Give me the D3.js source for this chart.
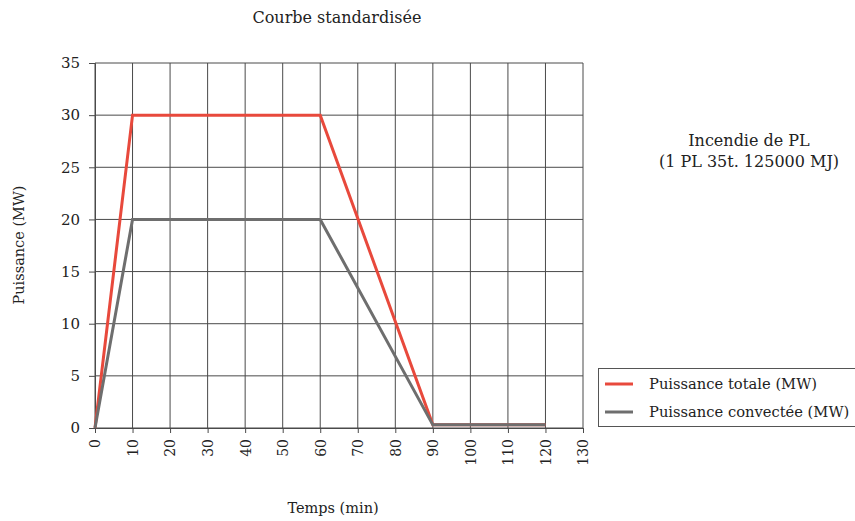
<!DOCTYPE html>
<html><head><meta charset="utf-8">
<script src="https://cdn.jsdelivr.net/npm/d3@7"></script>
<style>body{margin:0;background:#fff}svg{display:block}text{font-family:"DejaVu Serif","Liberation Serif",serif;fill:#222}</style>
</head><body><svg id="c" width="855" height="521"></svg>
<script>
const timeTicks = [0,10,20,30,40,50,60,70,80,90,100,110,120,130];
const powerTicks = [0,5,10,15,20,25,30,35];
const totalTime = [0,10,60,90,120];
const totalPower = [0,30,30,0.3,0.3];
const convTime = [0,10,60,90,120];
const convPower = [0,20,20,0.3,0.3];
const seriesNames = ["Puissance totale (MW)","Puissance convectée (MW)"];
const seriesColors = ["#e8493c","#6e6e6e"];

const svg = d3.select("#c");
const x = d3.scaleLinear().domain([0,130]).range([95,583]);
const y = d3.scaleLinear().domain([0,35]).range([428,63]);

// grid
svg.append("g").selectAll("line").data(timeTicks).join("line")
  .attr("x1",d=>x(d)).attr("x2",d=>x(d)).attr("y1",y(0)).attr("y2",y(35))
  .attr("stroke","#4a4a4a").attr("stroke-width",1);
svg.append("g").selectAll("line").data(powerTicks).join("line")
  .attr("x1",x(0)).attr("x2",x(130)).attr("y1",d=>y(d)).attr("y2",d=>y(d))
  .attr("stroke","#4a4a4a").attr("stroke-width",1);

// axes
const xa = svg.append("g").attr("transform",`translate(0,${y(0)})`)
  .call(d3.axisBottom(x).tickValues(timeTicks).tickSize(5).tickPadding(6));
xa.select(".domain").attr("stroke","#4a4a4a");
xa.selectAll(".tick line").attr("stroke","#4a4a4a");
xa.selectAll("text").attr("font-size",14).attr("fill","#222")
  .attr("transform","rotate(-90)").attr("text-anchor","end").attr("dy","0.35em").attr("x",-11).attr("y",0);
const ya = svg.append("g").attr("transform",`translate(${x(0)},0)`)
  .call(d3.axisLeft(y).tickValues(powerTicks).tickSize(6).tickPadding(9));
ya.select(".domain").attr("stroke","#4a4a4a");
ya.selectAll(".tick line").attr("stroke","#4a4a4a");
ya.selectAll("text").attr("font-size",15).attr("fill","#222");

// lines
const line = d3.line().x(d=>x(d[0])).y(d=>y(d[1]));
svg.append("path").datum(totalTime.map((t,i)=>[t,totalPower[i]]))
  .attr("d",line).attr("fill","none").attr("stroke",seriesColors[0]).attr("stroke-width",3);
svg.append("path").datum(convTime.map((t,i)=>[t,convPower[i]]))
  .attr("d",line).attr("fill","none").attr("stroke",seriesColors[1]).attr("stroke-width",3);

// titles
svg.append("text").attr("x",337).attr("y",23).attr("text-anchor","middle").attr("font-size",16).text("Courbe standardisée");
svg.append("text").attr("x",333).attr("y",513).attr("text-anchor","middle").attr("font-size",14.5).text("Temps (min)");
svg.append("text").attr("transform","translate(24,245) rotate(-90)").attr("text-anchor","middle").attr("font-size",14.5).text("Puissance (MW)");
svg.append("text").attr("x",749).attr("y",146).attr("text-anchor","middle").attr("font-size",16).text("Incendie de PL");
svg.append("text").attr("x",749).attr("y",167).attr("text-anchor","middle").attr("font-size",16).text("(1 PL 35t. 125000 MJ)");

// legend
svg.append("rect").attr("x",598.5).attr("y",368.5).attr("width",262).attr("height",58)
  .attr("fill","#fff").attr("stroke","#555");
const lg = svg.append("g").selectAll("g").data(seriesNames).join("g")
  .attr("transform",(d,i)=>`translate(605,${384+i*28})`);
lg.append("line").attr("x1",0).attr("x2",28).attr("stroke",(d,i)=>seriesColors[i]).attr("stroke-width",3);
lg.append("text").attr("x",44).attr("dy","0.35em").attr("font-size",14.7).text(d=>d);
</script></body></html>
